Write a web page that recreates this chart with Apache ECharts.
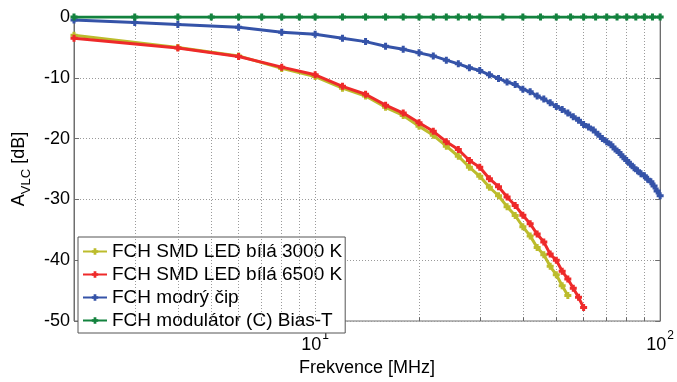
<!DOCTYPE html>
<html>
<head>
<meta charset="utf-8">
<script src="https://cdn.jsdelivr.net/npm/echarts@6/dist/echarts.min.js"></script>
<style>
html,body{margin:0;padding:0;background:#fff;}
#c{width:677px;height:382px;}
</style>
</head>
<body>
<div id="c"></div>
<script>
// ---- data ----
var seriesNames = ['FCH SMD LED bílá 3000 K', 'FCH SMD LED bílá 6500 K', 'FCH modrý čip', 'FCH modulátor (C) Bias-T'];

var freqYellow = [2,4,6,8,10,12,14,16,18,20,22,24,26,28,30,32,34,36,38,40,42,44,46,48,50,52,54];
var valYellow  = [-3.0,-5.0,-6.4,-8.45,-9.8,-11.7,-13.0,-14.85,-16.2,-17.95,-19.45,-21.25,-22.9,-24.7,-26.2,-28.0,-29.4,-31.2,-32.65,-34.5,-36.0,-37.9,-39.1,-41.0,-42.4,-44.2,-45.8];

var freqRed = [2,4,6,8,10,12,14,16,18,20,22,24,26,28,30,32,34,36,38,40,42,44,46,48,50,52,54,56,58,60];
var valRed  = [-3.5,-5.1,-6.5,-8.25,-9.5,-11.4,-12.7,-14.5,-15.8,-17.4,-18.8,-20.5,-21.8,-23.6,-24.7,-26.6,-27.9,-29.6,-31.0,-32.6,-34.0,-35.7,-37.0,-39.0,-40.0,-41.8,-43.1,-44.6,-46.1,-47.8];

var freqBlue = [2,3,4,6,8,10,12,14,16,18,20,22,24,26,28,30,32,34,36,38,40,42,44,46,48,50,52,54,56,58,60,62,64,66,68,70,72,74,76,78,80,82,84,86,88,90,92,94,96,98,100];
var valBlue  = [-0.5,-0.9,-1.25,-1.7,-2.5,-2.84,-3.5,-4.05,-4.8,-5.3,-5.9,-6.4,-7.1,-7.7,-8.35,-8.8,-9.5,-10.1,-10.7,-11.1,-11.9,-12.3,-13.0,-13.5,-14.1,-14.7,-15.2,-15.8,-16.4,-17.0,-17.7,-18.1,-18.6,-19.3,-20.0,-20.5,-21.0,-21.7,-22.3,-23.0,-23.6,-24.2,-24.8,-25.3,-25.8,-26.1,-26.7,-27.1,-27.8,-28.6,-29.4];

var freqGreen = [2,3,4,5,6,7,8,9,10,12,14,16,18,20,22,24,26,28,30,35,40,45,50,55,60,65,70,75,80,85,90,95,100];
var valGreen  = [0,0,0,0,0,0,0,0,0,0,0,0,0,0,0,0,0,0,0,0,0,0,0,0,0,0,0,0,0,0,0,0,0];

var xGridTicks = [3,4,5,6,7,8,9,10,20,30,40,50,60,70,80,90];
var xMin = 2, xMax = 100;
var yMin = -50, yMax = 0, yStep = 10;

// ---- chart ----
var FONT = 'Liberation Sans';
var colors = ['#bcbc2c', '#ee2a2a', '#3553a8', '#13823e'];
var plus = 'path://M2,0h3v2h2v3h-2v2h-3v-2h-2v-3h2z';

function pairs(xs, ys){ return xs.map(function(x,i){ return [x, ys[i]]; }); }

var gridLineStyle = {color:'#9a9a9a', width:1, type:[1,2]};

var chart = echarts.init(document.getElementById('c'), null, {renderer:'canvas'});

var datasets = [pairs(freqYellow,valYellow), pairs(freqRed,valRed), pairs(freqBlue,valBlue), pairs(freqGreen,valGreen)];

var series = datasets.map(function(d, i){
  return {
    name: seriesNames[i],
    type: 'line',
    data: d,
    symbol: plus,
    symbolSize: 7,
    showAllSymbol: true,
    lineStyle: {width: 3, color: colors[i]},
    itemStyle: {color: colors[i]},
    z: 10 + i,
    animation: false
  };
});

// grid lines (dotted) at x tick positions, plus small tick marks at the bottom
series.push({
  type: 'line',
  data: [],
  silent: true,
  z: 1,
  markLine: {
    silent: true,
    symbol: 'none',
    label: {show:false},
    animation: false,
    lineStyle: gridLineStyle,
    data: xGridTicks.map(function(v){ return {xAxis: v}; })
  }
});
series.push({
  type: 'line',
  data: [],
  silent: true,
  z: 2,
  markLine: {
    silent: true,
    symbol: 'none',
    label: {show:false},
    animation: false,
    lineStyle: {color:'#666', width:1, type:'solid'},
    data: xGridTicks.map(function(v){ return [{coord:[v, yMin]}, {coord:[v, yMin + 0.6]}]; })
  }
});

var option = {
  animation: false,
  backgroundColor: '#fff',
  textStyle: {fontFamily: FONT},
  grid: {left: 74, top: 17, width: 587, height: 317, show: true, borderColor: '#6e6e6e', borderWidth: 1, backgroundColor: 'transparent'},
  legend: {
    orient: 'vertical',
    left: 78, top: 237,
    itemWidth: 24, itemHeight: 8, itemGap: 4,
    padding: [5, 3, 3, 4],
    backgroundColor: '#fff',
    borderColor: '#555', borderWidth: 1,
    textStyle: {fontFamily: FONT, fontSize: 19, color: '#000'},
    data: seriesNames
  },
  xAxis: {
    type: 'log', logBase: 10, min: xMin, max: xMax,
    name: 'Frekvence [MHz]', nameLocation: 'middle', nameGap: 38,
    nameTextStyle: {fontFamily: FONT, fontSize: 18, color: '#000'},
    axisLine: {show: true, lineStyle: {color:'#6e6e6e'}},
    axisTick: {show: false},
    splitLine: {show: false},
    axisLabel: {
      margin: 9,
      color: '#000',
      formatter: function(v){
        var e = Math.round(Math.log(v)/Math.LN10);
        if (Math.abs(v - Math.pow(10,e)) < 1e-6 && e >= 1) return '{b|10}{s|' + e + '}';
        return '';
      },
      rich: {
        b: {fontFamily: FONT, fontSize: 18, color:'#000', verticalAlign:'bottom'},
        s: {fontFamily: FONT, fontSize: 12, color:'#000', verticalAlign:'bottom', padding:[0,0,12,1]}
      }
    }
  },
  yAxis: [{
    type: 'value', min: yMin, max: yMax, interval: yStep,
    name: '{a|A}{s|VLC}{a| [dB]}', nameLocation: 'middle', nameGap: 35, nameRotate: 90,
    nameTextStyle: {
      rich: {
        a: {fontFamily: FONT, fontSize: 18, color:'#000', verticalAlign:'top'},
        s: {fontFamily: FONT, fontSize: 13, color:'#000', verticalAlign:'top', padding:[10,0,0,0]}
      }
    },
    axisLine: {show: true, lineStyle: {color:'#6e6e6e'}},
    axisTick: {show: true, inside: true, length: 5, lineStyle: {color:'#6e6e6e'}},
    axisLabel: {fontFamily: FONT, fontSize: 18, color:'#000', margin: 4},
    splitLine: {show: true, lineStyle: gridLineStyle}
  }, {
    type: 'value', min: yMin, max: yMax, interval: yStep, position: 'right',
    axisLine: {show: true, lineStyle: {color:'#6e6e6e'}},
    axisTick: {show: true, inside: true, length: 5, lineStyle: {color:'#6e6e6e'}},
    axisLabel: {show: false},
    splitLine: {show: false}
  }],
  series: series
};
chart.setOption(option);
</script>
</body>
</html>
